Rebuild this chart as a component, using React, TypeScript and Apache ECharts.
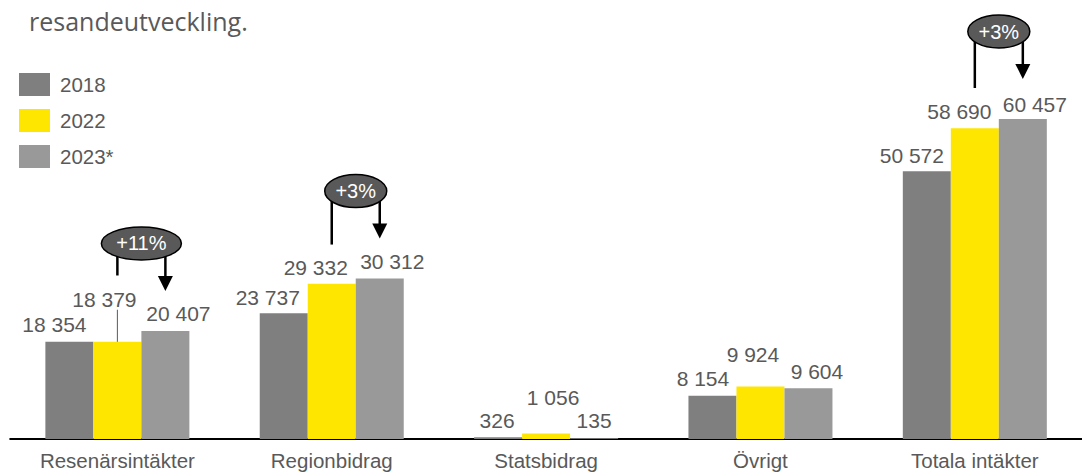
import React, { useEffect, useRef } from "react";
import * as echarts from "echarts";

const categories = ["Resenärsintäkter", "Regionbidrag", "Statsbidrag", "Övrigt", "Totala intäkter"];
const seriesNames = ["2018", "2022", "2023*"];
const values2018 = [18354, 23737, 326, 8154, 50572];
const values2022 = [18379, 29332, 1056, 9924, 58690];
const values2023 = [20407, 30312, 135, 9604, 60457];
const changeCategories = ["Resenärsintäkter", "Regionbidrag", "Totala intäkter"];
const changeLabels = ["+11%", "+3%", "+3%"];
const titleText = "resandeutveckling.";

// layout (not data)
const FONT = "Liberation Sans";
const colors = ["#7f7f7f", "#ffe600", "#999999"];
const textColor = "#595959";
const labelOffsets: number[][][] = [
  [[-15, 0], [-16, 1], [-1, 0], [-9.5, 0], [-15, 1]],
  [[-13, -25], [-16, 1], [7, -19], [-7.5, -15], [-15.5, 0]],
  [[13, 0], [12.5, 0], [0, -1], [8.5, 0], [12, 2]],
];
const bubbleRx = [40, 31, 31];
const leftDrops = [32, 53.5, 56.5];

export default function App() {
  const ref = useRef<HTMLDivElement>(null);
  useEffect(() => {
    if (!ref.current) return;
    const chart = echarts.init(ref.current, null, { renderer: "svg" });
    const allValues = [values2018, values2022, values2023];
    const series = allValues.map((vals, si) => ({
      name: seriesNames[si],
      type: "bar",
      barWidth: 48,
      barGap: "0%",
      itemStyle: { color: colors[si] },
      data: vals.map((v, ci) => ({
        value: v,
        label: {
          show: true,
          position: "top",
          distance: 0,
          offset: [labelOffsets[si][ci][0], -6.5 + labelOffsets[si][ci][1]],
          formatter: (p: any) => String(p.value).replace(/\B(?=(\d{3})+(?!\d))/g, " "),
          color: textColor,
          fontSize: 21,
          fontFamily: FONT,
        },
      })),
    }));
    chart.setOption({
      animation: false,
      legend: {
        orient: "vertical",
        left: 19,
        top: 73,
        padding: 0,
        itemWidth: 31,
        itemHeight: 23,
        itemGap: 13,
        icon: "rect",
        data: seriesNames,
        textStyle: {
          color: textColor,
          fontSize: 20.5,
          fontFamily: FONT,
          padding: [0, 0, 0, 5],
        },
      },
      grid: { left: 10.2, width: 1078, top: 68.5, height: 370.5, containLabel: false },
      xAxis: {
        type: "category",
        data: categories,
        axisTick: { show: false },
        axisLine: { lineStyle: { color: "#000", width: 2 } },
        axisLabel: {
          color: textColor,
          fontSize: 20.5,
          margin: 11,
          fontFamily: FONT,
          interval: 0,
        },
      },
      yAxis: { type: "value", min: 0, max: 70000, show: false, splitLine: { show: false } },
      series,
    });

    const graphics: any[] = [
      {
        type: "text",
        x: 29,
        y: 21,
        style: {
          text: titleText,
          fill: textColor,
          fontSize: 25,
          fontFamily: "Open Sans",
          align: "left",
          verticalAlign: "middle",
          textAlign: "left",
          textVerticalAlign: "middle",
        },
      },
    ];

    // leader line for 2022 Resenärsintäkter label
    {
      const cx = chart.convertToPixel({ xAxisIndex: 0 }, 0) as number;
      const top = chart.convertToPixel({ yAxisIndex: 0 }, values2022[0]) as number;
      graphics.push({
        type: "line",
        shape: { x1: cx, y1: top - 32, x2: cx, y2: top + 15 },
        style: { stroke: textColor, lineWidth: 1 },
      });
    }

    changeCategories.forEach((cat, i) => {
      const ci = categories.indexOf(cat);
      const center = chart.convertToPixel({ xAxisIndex: 0 }, ci) as number;
      const xL = center;
      const xR = center + 48;
      const topR = chart.convertToPixel({ yAxisIndex: 0 }, values2023[ci]) as number;
      const cy = topR - 87.5;
      const cx = (xL + xR) / 2;
      const tip = cy + 47.5;
      graphics.push(
        {
          type: "line",
          shape: { x1: xL, y1: cy, x2: xL, y2: cy + leftDrops[i] },
          style: { stroke: "#000", lineWidth: 2.5 },
        },
        {
          type: "line",
          shape: { x1: xR, y1: cy, x2: xR, y2: tip - 14 },
          style: { stroke: "#000", lineWidth: 2.5 },
        },
        {
          type: "polygon",
          shape: { points: [[xR - 7.5, tip - 15], [xR + 7.5, tip - 15], [xR, tip]] },
          style: { fill: "#000" },
        },
        {
          type: "ellipse",
          shape: { cx, cy, rx: bubbleRx[i], ry: 16.5 },
          style: { fill: "#595959", stroke: "#000", lineWidth: 1.5 },
        },
        {
          type: "text",
          x: cx,
          y: cy,
          style: {
            text: changeLabels[i],
            fill: "#fff",
            fontSize: 20,
            fontFamily: FONT,
            align: "center",
            verticalAlign: "middle",
            textAlign: "center",
            textVerticalAlign: "middle",
          },
        }
      );
    });

    chart.setOption({ graphic: graphics });
    return () => chart.dispose();
  }, []);
  return (
    <div
      ref={ref}
      style={{ position: "absolute", left: 0, top: 0, width: 1082, height: 472, background: "#fff" }}
    />
  );
}
